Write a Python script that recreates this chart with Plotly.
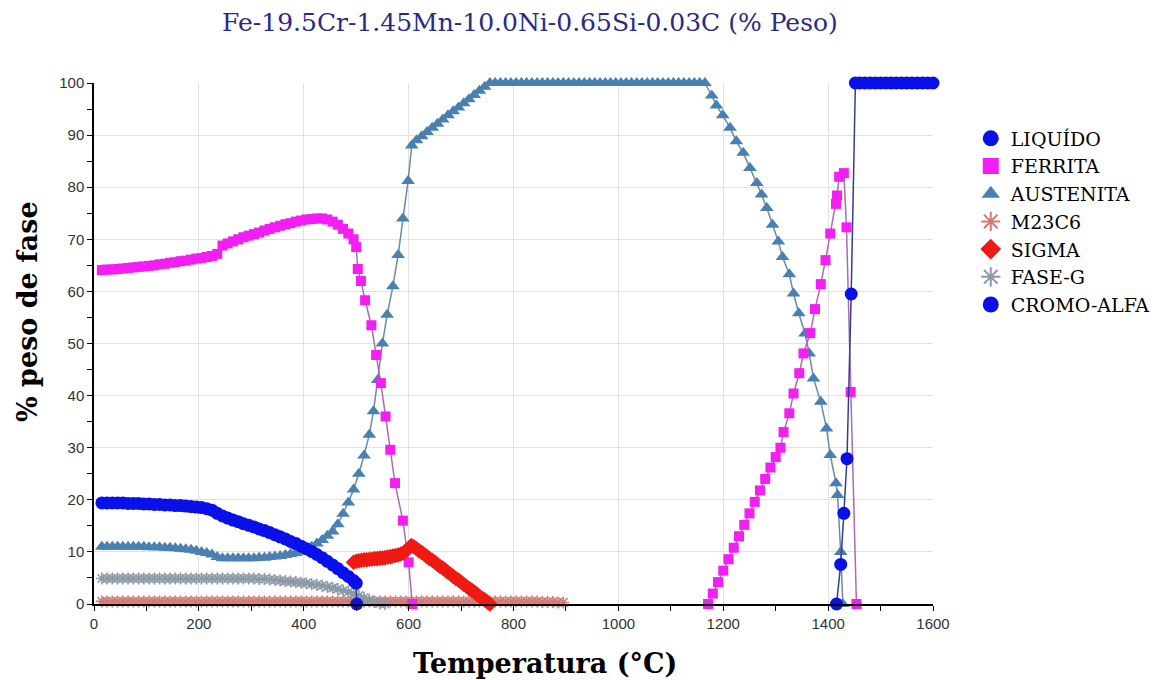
import plotly.graph_objects as go

# ---------------- data ----------------
T_low = [15, 25, 35, 45, 55, 65, 75, 85, 95, 105, 115, 125, 135, 145, 155, 165, 175,
         185, 195, 205, 215, 225, 235, 245, 255, 265, 275, 285, 295, 305, 315, 325,
         335, 345, 355, 365, 375, 385, 395, 405, 415, 425, 435, 445, 455, 465, 475,
         485, 495]

T_mid = [505, 515, 525, 535, 545, 555, 565, 575, 585, 595, 605, 615, 625, 635, 645,
         655, 665, 675, 685, 695, 705, 715, 725, 735, 745, 755, 765, 775, 785, 795,
         805, 815, 825, 835, 845, 855, 865, 875, 885, 895]

# CROMO-ALFA
cromo_T = T_low + [500, 501]
cromo_y = [19.4, 19.4, 19.4, 19.4, 19.4, 19.3, 19.3, 19.3, 19.2, 19.2, 19.1, 19.1,
           19.0, 19.0, 18.9, 18.9, 18.8, 18.7, 18.6, 18.5, 18.3, 18.0, 17.4, 16.9,
           16.5, 16.1, 15.8, 15.4, 15.1, 14.8, 14.4, 14.1, 13.7, 13.3, 12.9, 12.5,
           12.0, 11.6, 11.1, 10.6, 10.1, 9.5, 8.9, 8.2, 7.5, 6.8, 6.0, 5.3, 4.5,
           4.0, 0.0]

# FERRITA (low-temperature branch)
ferr1_T = T_low + [500, 503, 509, 517, 529, 538, 547, 556, 565, 574, 589, 600, 607]
ferr1_y = [64.1, 64.2, 64.2, 64.3, 64.4, 64.5, 64.6, 64.7, 64.8, 64.9, 65.0, 65.2,
           65.3, 65.5, 65.6, 65.8, 65.9, 66.1, 66.3, 66.4, 66.6, 66.8, 67.2, 68.8,
           69.2, 69.6, 70.0, 70.4, 70.7, 71.0, 71.3, 71.7, 72.0, 72.3, 72.6, 72.9,
           73.1, 73.4, 73.6, 73.8, 73.9, 74.0, 74.0, 73.8, 73.4, 72.8, 72.0, 71.1,
           70.0,
           68.5, 64.3, 62.0, 58.3, 53.5, 47.8, 42.4, 36.0, 29.6, 23.2, 16.0, 8.0, 0.0]

# FERRITA (high-temperature branch)
ferr2_T = [1171, 1180, 1190, 1200, 1210, 1220, 1230, 1240, 1250, 1260, 1270, 1280,
           1290, 1300, 1309, 1315, 1326, 1334, 1345, 1353, 1366, 1375, 1386, 1395,
           1404, 1415, 1417, 1421, 1430, 1435, 1443, 1454]
ferr2_y = [0.0, 2.0, 4.2, 6.4, 8.6, 10.8, 13.0, 15.2, 17.4, 19.6, 21.8, 24.0, 26.2,
           28.2, 30.0, 33.0, 36.6, 40.4, 44.3, 48.1, 52.0, 56.6, 61.4, 66.0, 71.1,
           76.8, 78.4, 82.0, 82.7, 72.3, 40.7, 0.0]

# AUSTENITA
aus_T = T_low + [505, 515, 525, 533, 541, 550, 559, 570, 580, 589, 599, 606, 615,
                 625, 635, 645, 655, 665, 675, 685, 695, 705, 715, 725, 735, 745, 755,
                 765, 775, 785, 795, 805, 815, 825, 835, 845, 855, 865, 875, 885, 895,
                 905, 915, 925, 935, 945, 955, 965, 975, 985, 995, 1005, 1015, 1025,
                 1035, 1045, 1055, 1065, 1075, 1085, 1095, 1105, 1115, 1125, 1135,
                 1145, 1155, 1165,
                 1178, 1187, 1199, 1213, 1225, 1238, 1251, 1264, 1273, 1283, 1294,
                 1305, 1313, 1326, 1334, 1344, 1356, 1364, 1372, 1386, 1397, 1404,
                 1415, 1418, 1424, 1428]
aus_y = [11.0, 11.0, 11.0, 11.0, 11.0, 11.0, 11.0, 11.0, 11.0, 10.9, 10.9, 10.9,
         10.8, 10.8, 10.7, 10.6, 10.5, 10.4, 10.2, 10.0, 9.8, 9.5, 9.0, 8.8, 8.8,
         8.8, 8.8, 8.8, 8.8, 8.8, 8.9, 8.9, 9.0, 9.1, 9.2, 9.4, 9.6, 9.8, 10.1,
         10.5, 11.0, 11.6, 12.3, 13.1, 13.9, 15.3, 17.3, 19.5, 22.0,
         25.0, 28.5, 32.5, 37.0, 43.0, 50.0, 55.5, 61.0, 67.0, 74.0, 81.2, 88.0,
         89.0, 89.8, 90.6, 91.4, 92.2, 93.0, 93.8, 94.6, 95.3, 96.1, 96.9, 97.7,
         98.5, 99.3, 100.0,
         100.0, 100.0, 100.0, 100.0, 100.0, 100.0, 100.0, 100.0, 100.0, 100.0,
         100.0, 100.0, 100.0, 100.0, 100.0, 100.0, 100.0, 100.0, 100.0, 100.0,
         100.0, 100.0, 100.0, 100.0, 100.0, 100.0, 100.0, 100.0, 100.0, 100.0,
         100.0, 100.0, 100.0, 100.0, 100.0, 100.0, 100.0, 100.0, 100.0, 100.0,
         100.0,
         97.6, 95.7, 93.8, 91.4, 88.8, 86.6, 83.7, 80.8, 78.6, 76.0, 72.8, 69.6,
         66.6, 63.3, 59.6, 55.8, 51.9, 48.1, 43.3, 38.8, 33.7, 28.6, 23.2, 20.9,
         10.0, 0.0]

# M23C6
m23_T = T_low + T_mid
m23_y = [0.5, 0.5, 0.5, 0.5, 0.5, 0.5, 0.5, 0.5, 0.5, 0.5, 0.5, 0.5, 0.5, 0.5,
         0.5, 0.5, 0.5, 0.5, 0.5, 0.5, 0.5, 0.5, 0.5, 0.5, 0.5, 0.5, 0.5, 0.5,
         0.5, 0.5, 0.5, 0.5, 0.5, 0.5, 0.5, 0.5, 0.5, 0.5, 0.5, 0.5, 0.5, 0.5,
         0.5, 0.5, 0.5, 0.5, 0.5, 0.5, 0.5,
         0.5, 0.5, 0.5, 0.5, 0.5, 0.5, 0.5, 0.5, 0.5, 0.5, 0.5, 0.5, 0.5, 0.5,
         0.5, 0.5, 0.5, 0.5, 0.5, 0.5, 0.5, 0.5, 0.5, 0.5, 0.5, 0.5, 0.5, 0.5,
         0.5, 0.5, 0.5, 0.5, 0.5, 0.5, 0.5, 0.4, 0.4, 0.4, 0.3, 0.3]

# SIGMA
sigma_T = [495, 500, 505, 510, 515, 520, 525, 530, 535, 540, 545, 550, 555, 560,
           565, 570, 575, 580, 585, 590, 595, 600, 605, 610, 615, 620, 625, 630,
           635, 640, 645, 650, 655, 660, 665, 670, 675, 680, 685, 690, 695, 700,
           705, 710, 715, 720, 725, 730, 735, 740, 745, 750, 755]
sigma_y = [8.0, 8.2, 8.3, 8.4, 8.5, 8.5, 8.6, 8.6, 8.7, 8.7, 8.8, 8.8, 8.9, 9.0,
           9.1, 9.2, 9.3, 9.4, 9.6, 9.8, 10.2, 10.7, 11.2, 11.0, 10.6, 10.2, 9.9,
           9.5, 9.1, 8.7, 8.4, 8.0, 7.6, 7.2, 6.9, 6.5, 6.1, 5.7, 5.3, 4.9, 4.6,
           4.2, 3.8, 3.4, 3.0, 2.7, 2.3, 1.9, 1.5, 1.1, 0.8, 0.4, 0.0]

# FASE-G
faseg_T = T_low + [505, 515, 525, 535, 545, 555]
faseg_y = [4.9, 4.9, 4.9, 4.9, 4.9, 4.9, 4.9, 4.9, 4.9, 4.9, 4.9, 4.9, 4.9, 4.9,
           4.9, 4.9, 4.9, 4.9, 4.9, 4.9, 4.9, 4.9, 4.9, 4.9, 4.9, 4.9, 4.9, 4.9,
           4.9, 4.9, 4.8, 4.8, 4.7, 4.6, 4.5, 4.4, 4.3, 4.2, 4.1, 4.0, 3.8, 3.7,
           3.5, 3.3, 3.1, 2.9, 2.6, 2.3, 2.0,
           1.6, 1.2, 0.8, 0.4, 0.1, 0.0]

# LIQUIDO
liq_T = [1416, 1424, 1430, 1436, 1444, 1452, 1460, 1470, 1480, 1490, 1500, 1510,
         1520, 1530, 1540, 1550, 1560, 1570, 1580, 1590, 1600]
liq_y = [0.0, 7.6, 17.4, 27.9, 59.5, 100.0, 100.0, 100.0, 100.0, 100.0, 100.0,
         100.0, 100.0, 100.0, 100.0, 100.0, 100.0, 100.0, 100.0, 100.0, 100.0]

legend_names = ["LIQUÍDO", "FERRITA", "AUSTENITA", "M23C6", "SIGMA", "FASE-G", "CROMO-ALFA"]

title_text = "Fe-19.5Cr-1.45Mn-10.0Ni-0.65Si-0.03C (% Peso)"
x_title = "Temperatura (°C)"
y_title = "% peso de fase"

# ---------------- styles ----------------
BLUE = "#0a10e8"
MAG = "#f21ef2"
STEEL = "#4a80b0"
M23 = "#d47a76"
RED = "#ee1a12"
GRAY = "#8c98a6"
SERIF = "DejaVu Serif, Liberation Serif, serif"

styles = {
    "LIQUÍDO": dict(symbol="circle", color=BLUE, size=13, line="#33408a"),
    "FERRITA": dict(symbol="square", color=MAG, size=10, line="#a86cb8"),
    "AUSTENITA": dict(symbol="triangle-up", color=STEEL, size=12, line="#6a8aa6"),
    "M23C6": dict(symbol="asterisk-open", color=M23, size=10, line=M23),
    "SIGMA": dict(symbol="diamond", color=RED, size=12, line=RED),
    "FASE-G": dict(symbol="asterisk-open", color=GRAY, size=10, line=GRAY),
    "CROMO-ALFA": dict(symbol="circle", color=BLUE, size=13, line="#33408a"),
}

fig = go.Figure()


def add(x, y, key):
    s = styles[key]
    open_sym = s["symbol"].endswith("open")
    fig.add_trace(go.Scatter(
        x=x, y=y, mode="lines+markers", showlegend=False, cliponaxis=False,
        line=dict(color=s["line"], width=1.5),
        marker=dict(symbol=s["symbol"], size=s["size"], color=s["color"],
                    line=dict(width=1.6 if open_sym else 0, color=s["color"])),
        name=key))


add(m23_T, m23_y, "M23C6")
add(faseg_T, faseg_y, "FASE-G")
add(aus_T, aus_y, "AUSTENITA")
add(ferr1_T, ferr1_y, "FERRITA")
add(ferr2_T, ferr2_y, "FERRITA")
add(sigma_T, sigma_y, "SIGMA")
add(cromo_T, cromo_y, "CROMO-ALFA")
add(liq_T, liq_y, "LIQUÍDO")

# legend entries (markers only)
for nm in legend_names:
    s = styles[nm]
    open_sym = s["symbol"].endswith("open")
    fig.add_trace(go.Scatter(
        x=[None], y=[None], mode="markers", name=nm, showlegend=True,
        marker=dict(symbol=s["symbol"], size=16, color=s["color"],
                    line=dict(width=2 if open_sym else 0, color=s["color"]))))

axis_common = dict(
    showgrid=True, gridcolor="#e2e2e2", gridwidth=1,
    showline=True, linecolor="black", linewidth=1.5,
    ticks="outside", ticklen=5, tickcolor="black", tickwidth=1.2,
    zeroline=False,
    tickfont=dict(family="Liberation Sans, Arial, sans-serif", size=15, color="#333333"),
)

fig.update_layout(
    width=1157, height=680,
    margin=dict(l=94, r=224, t=83, b=76, autoexpand=False),
    paper_bgcolor="white", plot_bgcolor="white",
    title=dict(text=title_text, x=0.458, xanchor="center", xref="container",
               y=0.967, yanchor="middle", yref="container",
               font=dict(family=SERIF, size=25, color="#2a2a86")),
    xaxis=dict(range=[0, 1600], dtick=200, tick0=0,
               minor=dict(dtick=100, ticks="outside", ticklen=5, tickcolor="black",
                          showgrid=False),
               **axis_common),
    yaxis=dict(range=[0, 100], dtick=10, tick0=0,
               minor=dict(dtick=5, ticks="outside", ticklen=5, tickcolor="black",
                          showgrid=False),
               **axis_common),
    legend=dict(x=1.045, xanchor="left", y=0.93, yanchor="top",
                font=dict(family=SERIF, size=19, color="black"),
                bgcolor="rgba(0,0,0,0)", tracegroupgap=0, itemsizing="trace"),
    annotations=[
        dict(text=x_title, xref="paper", yref="paper", x=0.5375, y=0,
             xanchor="center", yanchor="middle", yshift=-59, showarrow=False,
             font=dict(family=SERIF, size=27, color="black", weight="bold")),
        dict(text=y_title, xref="paper", yref="paper", x=0, y=0.5605,
             xanchor="center", yanchor="middle", xshift=-66, textangle=-90,
             showarrow=False,
             font=dict(family=SERIF, size=27, color="black", weight="bold")),
    ],
)

fig.write_html("out.html")
